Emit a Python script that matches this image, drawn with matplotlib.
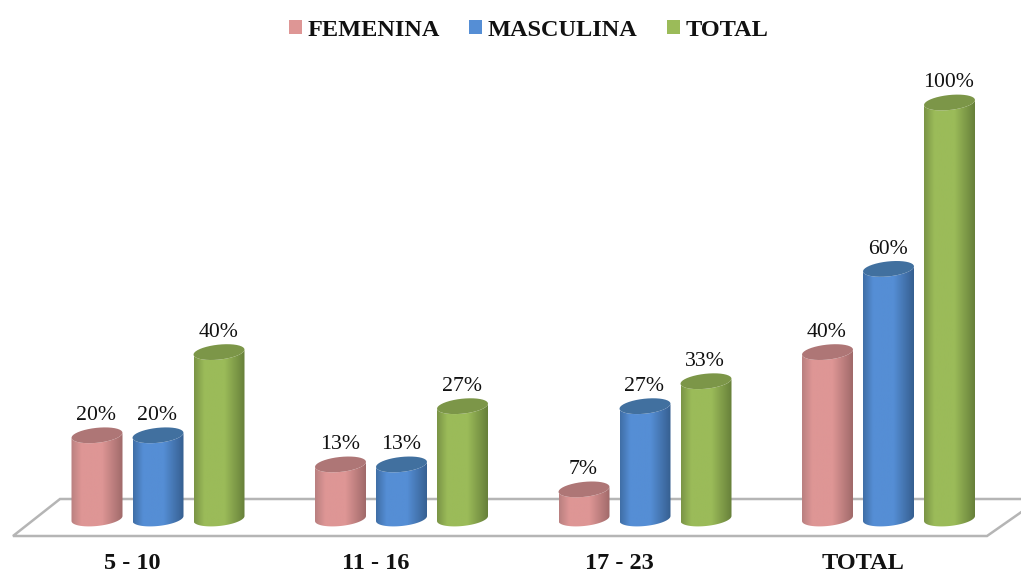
import numpy as np
import matplotlib
matplotlib.use('Agg')
import matplotlib.pyplot as plt
from matplotlib.colors import LinearSegmentedColormap
from matplotlib.patches import Patch, PathPatch, Polygon
from matplotlib.path import Path

categories = ['5 - 10', '11 - 16', '17 - 23', 'TOTAL']
femenina = [20, 13, 7, 40]
masculina = [20, 13, 27, 60]
total = [40, 27, 33, 100]
series_names = ['FEMENINA', 'MASCULINA', 'TOTAL']

# one group is 243.5 px wide, one percent is 4.16 px tall
PX_X = 243.5
PX_Y = 4.16
ZERO_PX = 518.5
W, H = 1021, 575
AX_BOTTOM = 540

# (legend/centre, dark left, dark right, top cap)
shades = [
    ('#DE9695', '#B98080', '#A06A6A', '#AE7676'),
    ('#558ED5', '#406EA6', '#365F90', '#41709F'),
    ('#9BBB59', '#7A9446', '#67803A', '#7C9648'),
]

plt.rcParams['font.family'] = ['Liberation Serif', 'DejaVu Serif']

fig = plt.figure(figsize=(W / 100, H / 100), dpi=100)
ax = fig.add_axes([0, (H - AX_BOTTOM) / H, 1, AX_BOTTOM / H])
xlim = (-158 / PX_X, (W - 158) / PX_X)
ylim = ((ZERO_PX - AX_BOTTOM) / PX_Y, ZERO_PX / PX_Y)


def ellipse_arc(cx, cy, start, stop, half_w, half_h, tilt):
    t = np.linspace(start, stop, 40)
    return np.column_stack([cx + half_w * np.cos(t),
                            cy + half_h * np.sin(t) + tilt * np.cos(t)])


def cylinder(cx, value, shade):
    center, left, right, cap = shade
    half_w = 25.5 / PX_X
    half_h, tilt = 7.5 / PX_Y, 2.5 / PX_Y

    # body: front of the bottom ellipse, then back along the front of the top one
    low = ellipse_arc(cx, 0, np.pi, 2 * np.pi, half_w, half_h, tilt)
    high = ellipse_arc(cx, value, 2 * np.pi, np.pi, half_w, half_h, tilt)
    body = PathPatch(Path(np.vstack([low, high, low[:1]])), fc='none', ec='none')
    ax.add_patch(body)

    cmap = LinearSegmentedColormap.from_list(
        'cyl', [(0, left), (0.2, center), (0.6, center), (1, right)])
    im = ax.imshow(np.linspace(0, 1, 128)[None, :], cmap=cmap, aspect='auto',
                   extent=(cx - half_w, cx + half_w, -5, value + 5), zorder=3)
    im.set_clip_path(body)

    top = ellipse_arc(cx, value, 0, 2 * np.pi, half_w, half_h, tilt)
    ax.add_patch(Polygon(top, closed=True, fc=cap, ec='none', zorder=4))


# floor of the 3D chart
floor_x = [(13 - 158) / PX_X, (60 - 158) / PX_X, (1040 - 158) / PX_X, (987 - 158) / PX_X]
floor_y = [(ZERO_PX - 536) / PX_Y, (ZERO_PX - 499) / PX_Y, (ZERO_PX - 499) / PX_Y, (ZERO_PX - 536) / PX_Y]
ax.add_patch(Polygon(np.column_stack([floor_x, floor_y]), closed=True, fc='white',
                     ec='#B5B5B5', lw=1.8, zorder=1))

bar_step = 61 / PX_X
all_series = [femenina, masculina, total]
for s, values in enumerate(all_series):
    for i, v in enumerate(values):
        cx = i + (s - 1) * bar_step
        cylinder(cx, v, shades[s])
        ax.annotate(f'{v}%', (cx, v), xytext=(-0.5, 14.2), textcoords='offset points',
                    ha='center', va='center', fontsize=15.7, color='#111111', zorder=5)

ax.set_xlim(xlim)
ax.set_ylim(ylim)
ax.set_yticks([])
# the category labels sit left of their groups in the original
ax.set_xticks([i - 26 / PX_X for i in range(len(categories))])
ax.set_xticklabels(categories, fontsize=17.5, fontweight='bold', color='#111111')
ax.tick_params(axis='x', length=0, pad=9.5)
for spine in ax.spines.values():
    spine.set_visible(False)

handles = [Patch(fc=shades[i][0], ec='none') for i in range(3)]
fig.legend(handles, series_names, ncol=3, loc='center', bbox_to_anchor=(528.5 / W, 1 - 30 / H),
           frameon=False, prop={'size': 17.5, 'weight': 'bold'},
           handlelength=0.55, handleheight=0.55, handletextpad=0.22,
           columnspacing=1.2, borderpad=0, labelcolor='#111111')

fig.savefig('out.png', dpi=100, facecolor='white')
